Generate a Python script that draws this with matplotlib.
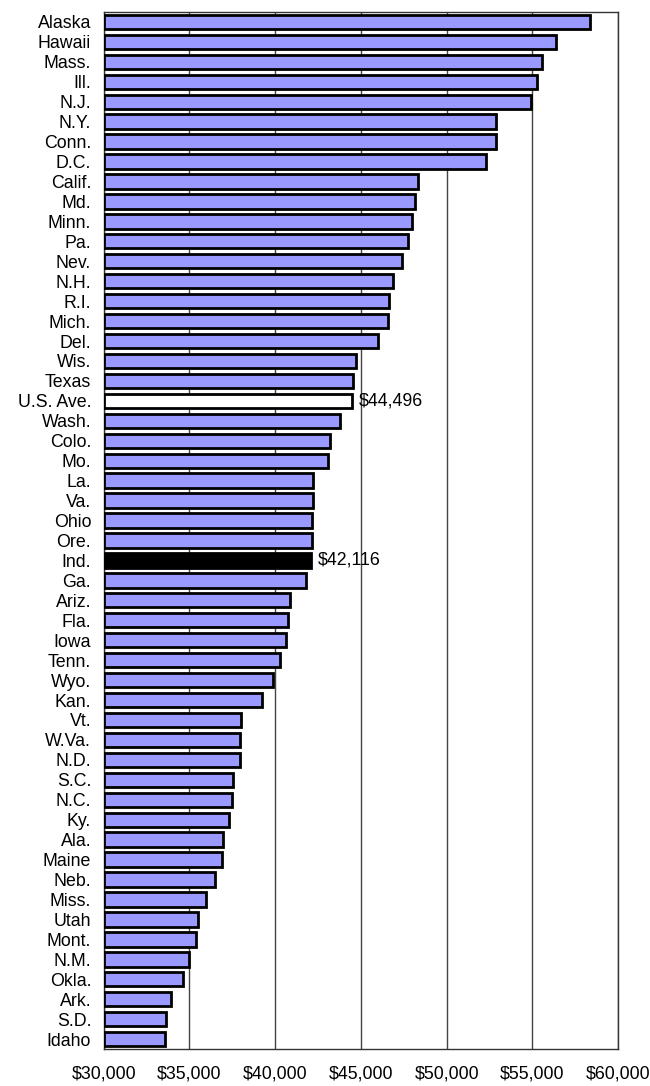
import matplotlib.pyplot as plt
from matplotlib.ticker import FuncFormatter

plt.rcParams['font.family'] = ['Liberation Sans', 'DejaVu Sans']

states = ['Alaska', 'Hawaii', 'Mass.', 'Ill.', 'N.J.', 'N.Y.', 'Conn.', 'D.C.',
          'Calif.', 'Md.', 'Minn.', 'Pa.', 'Nev.', 'N.H.', 'R.I.', 'Mich.',
          'Del.', 'Wis.', 'Texas', 'U.S. Ave.', 'Wash.', 'Colo.', 'Mo.', 'La.',
          'Va.', 'Ohio', 'Ore.', 'Ind.', 'Ga.', 'Ariz.', 'Fla.', 'Iowa',
          'Tenn.', 'Wyo.', 'Kan.', 'Vt.', 'W.Va.', 'N.D.', 'S.C.', 'N.C.',
          'Ky.', 'Ala.', 'Maine', 'Neb.', 'Miss.', 'Utah', 'Mont.', 'N.M.',
          'Okla.', 'Ark.', 'S.D.', 'Idaho']
pay = [58350, 56380, 55550, 55240, 54900, 52900, 52850, 52300,
       48310, 48160, 47970, 47770, 47410, 46870, 46650, 46560,
       45970, 44690, 44560, 44496, 43760, 43200, 43100, 42200,
       42200, 42160, 42150, 42116, 41820, 40890, 40720, 40620,
       40260, 39870, 39210, 38020, 37970, 37930, 37510, 37500,
       37290, 36950, 36880, 36490, 35980, 35520, 35400, 34960,
       34600, 33940, 33620, 33570]
labelled = ['U.S. Ave.', 'Ind.']
xticks = [30000, 35000, 40000, 45000, 50000, 55000, 60000]

colors = []
for s in states:
    if s == 'U.S. Ave.':
        colors.append('white')
    elif s == 'Ind.':
        colors.append('black')
    else:
        colors.append('#9999ff')

fig = plt.figure(figsize=(6.5, 10.86), dpi=100)
ax = fig.add_axes([0.1596, 0.034, 0.7914, 0.955])

y = list(range(len(states)))
ax.barh(y, [p - 30000 for p in pay], left=30000, height=0.72,
        color=colors, edgecolor='black', linewidth=2, zorder=3)

for s, p, yy in zip(states, pay, y):
    if s in labelled:
        ax.text(p + 380, yy, '${:,}'.format(p), va='center', ha='left',
                fontsize=12.8, zorder=4)

ax.set_xlim(30000, 60000)
ax.set_ylim(len(states) - 0.5, -0.5)
ax.set_xticks(xticks)
ax.xaxis.set_major_formatter(FuncFormatter(lambda v, pos: '${:,.0f}'.format(v)))
ax.set_yticks(y)
ax.set_yticklabels(states)
ax.tick_params(axis='both', length=0, labelsize=12.8)
ax.tick_params(axis='x', pad=12)
ax.tick_params(axis='y', pad=9)
ax.grid(axis='x', color='#444444', linewidth=1, zorder=0)
for sp in ax.spines.values():
    sp.set_color('#333333')
    sp.set_linewidth(1)

fig.savefig('out.png', dpi=100)
